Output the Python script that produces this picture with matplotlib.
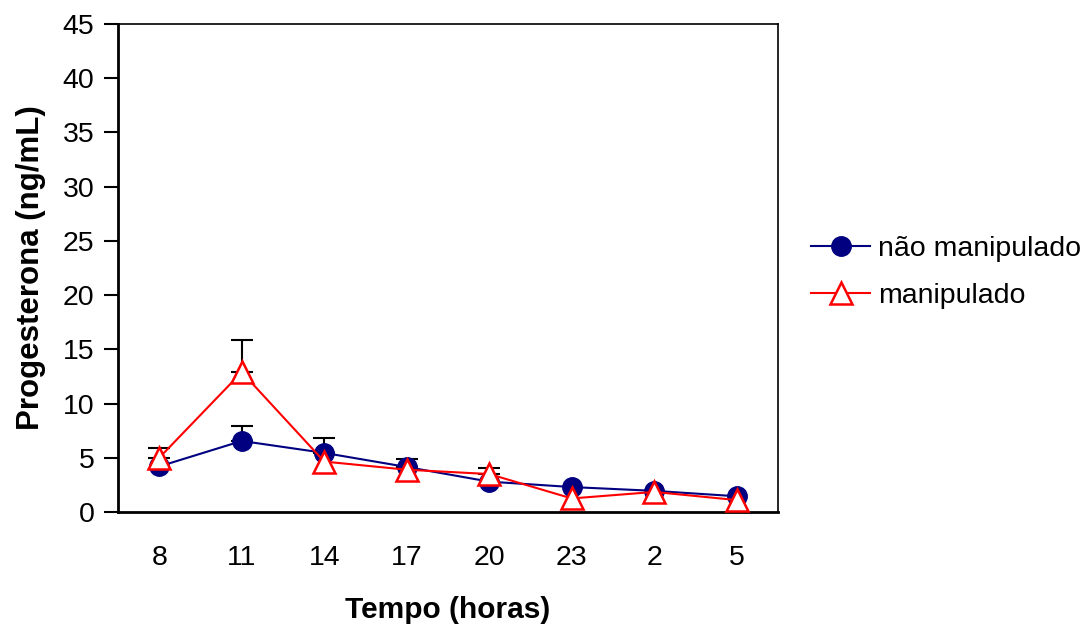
import matplotlib
matplotlib.use("Agg")
import matplotlib.pyplot as plt
import numpy as np

plt.rcParams['font.family'] = ['Liberation Sans', 'DejaVu Sans']

categories = ["8", "11", "14", "17", "20", "23", "2", "5"]
nao_manip = [4.2, 6.55, 5.45, 4.15, 2.8, 2.3, 1.95, 1.45]
nao_manip_err = [0.0, 1.4, 1.4, 0.7, 0.0, 0.0, 0.0, 0.0]
manip = [5.0, 12.9, 4.65, 3.9, 3.5, 1.25, 1.85, 1.1]
manip_err = [0.9, 3.0, 0.0, 0.0, 0.6, 0.0, 0.0, 0.0]
yticks = [0, 5, 10, 15, 20, 25, 30, 35, 40, 45]

fig = plt.figure(figsize=(10.9, 6.28), dpi=100)
ax = fig.add_axes([118/1090, 1-512/628, 660/1090, 488/628])

x = np.arange(len(categories)) + 0.5

for vals, errs in [(nao_manip, nao_manip_err), (manip, manip_err)]:
    v = np.array(vals); e = np.array(errs)
    m = e > 0
    ax.errorbar(x[m], v[m], yerr=[np.zeros(m.sum()), e[m]], fmt='none',
                ecolor='black', elinewidth=1.5, capsize=8, capthick=1.5, zorder=2)

ax.plot(x, nao_manip, color='#000080', lw=1.5, marker='o', markersize=14,
        markerfacecolor='#000080', markeredgecolor='#000080', label='não manipulado', zorder=3)
ax.plot(x, manip, color='#FF0000', lw=1.5, marker='^', markersize=16,
        markerfacecolor='white', markeredgecolor='#FF0000', markeredgewidth=1.8,
        label='manipulado', zorder=4)

ax.set_xlim(0, len(categories))
ax.set_ylim(0, 45)
ax.set_yticks(yticks)
ax.set_xticks(x)
ax.set_xticklabels(categories)
ax.tick_params(axis='y', direction='out', length=10, width=1.5, labelsize=20.5, pad=7)
ax.tick_params(axis='x', length=0, labelsize=20.5, pad=24)

for s in ['left', 'bottom']:
    ax.spines[s].set_linewidth(2)
for s in ['top', 'right']:
    ax.spines[s].set_linewidth(1.2)

ax.set_xlabel('Tempo (horas)', fontsize=21.5, fontweight='bold', labelpad=18)
ax.set_ylabel('Progesterona (ng/mL)', fontsize=22.5, fontweight='bold', labelpad=12)

fig.legend(loc='upper left', bbox_to_anchor=(785/1090, 1-210/628), frameon=False,
           fontsize=20.5, handlelength=2.1, handletextpad=0.28, labelspacing=0.75)

fig.savefig('out.png', dpi=100)
